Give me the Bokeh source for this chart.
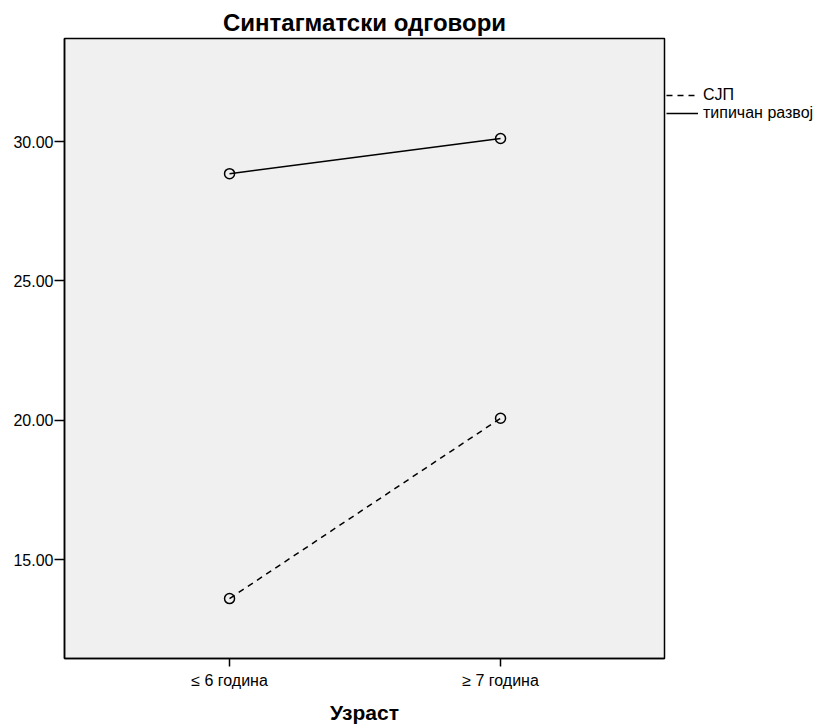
from bokeh.plotting import figure
from bokeh.models import Range1d, FixedTicker, Legend, LegendItem, NumeralTickFormatter, Title
from bokeh.embed import file_html
from bokeh.resources import INLINE

categories = ["≤ 6 година", "≥ 7 година"]
series_names = ["СЈП", "типичан развој"]
sjp = [13.60, 20.07]
typical = [28.85, 30.11]
y_ticks = [15, 20, 25, 30]

xs = list(range(len(categories)))
FONT = "Liberation Sans"

p = figure(frame_width=600, frame_height=620, output_backend="svg", toolbar_location=None,
           x_range=Range1d(-0.609, 1.605), y_range=Range1d(11.45, 33.70),
           min_border_left=64, min_border_top=38, min_border_bottom=62, min_border_right=0)

p.add_layout(Title(text="Синтагматски одговори", align="center", text_font=FONT,
                   text_font_size="24px", text_font_style="bold", text_color="black",
                   standoff=5), "above")

p.background_fill_color = "#f0f0f0"
p.border_fill_color = "white"
p.outline_line_color = "black"
p.outline_line_width = 1.5
p.xgrid.visible = False
p.ygrid.visible = False

l1 = p.line(xs, sjp, line_color="black", line_width=1.5, line_dash="6 5")
p.scatter(xs, sjp, marker="circle", size=10, fill_color=None, line_color="black", line_width=1.5)
l2 = p.line(xs, typical, line_color="black", line_width=1.5)
p.scatter(xs, typical, marker="circle", size=10, fill_color=None, line_color="black", line_width=1.5)

p.xaxis.ticker = FixedTicker(ticks=xs)
p.xaxis.major_label_overrides = {i: c for i, c in enumerate(categories)}
p.xaxis.axis_label = "Узраст"
p.xaxis.axis_label_text_font = FONT
p.xaxis.axis_label_text_font_size = "21px"
p.xaxis.axis_label_text_font_style = "bold"
p.xaxis.axis_label_standoff = 9

p.yaxis.ticker = FixedTicker(ticks=y_ticks)
p.yaxis.formatter = NumeralTickFormatter(format="0.00")

for ax in (p.xaxis[0], p.yaxis[0]):
    ax.axis_line_color = "black"
    ax.axis_line_width = 1.5
    ax.major_tick_line_color = "black"
    ax.major_tick_line_width = 1.5
    ax.major_tick_in = 0
    ax.minor_tick_line_color = None
    ax.major_label_text_font = FONT
    ax.major_label_text_font_size = "16px"
    ax.major_label_text_color = "black"
    ax.axis_label_text_color = "black"

p.xaxis.major_tick_out = 8
p.xaxis.major_label_standoff = 5
p.yaxis.major_tick_out = 10
p.yaxis.major_label_standoff = 1

legend = Legend(items=[LegendItem(label=series_names[0], renderers=[l1]),
                       LegendItem(label=series_names[1], renderers=[l2])],
                location=(2, 536), margin=0, padding=0, spacing=0,
                glyph_width=32, glyph_height=16, label_standoff=5,
                label_text_font=FONT, label_text_font_size="16px",
                label_text_color="black", label_height=16,
                border_line_color=None, background_fill_alpha=0)
p.add_layout(legend, "right")

open("out.html", "w").write(file_html(p, INLINE))
